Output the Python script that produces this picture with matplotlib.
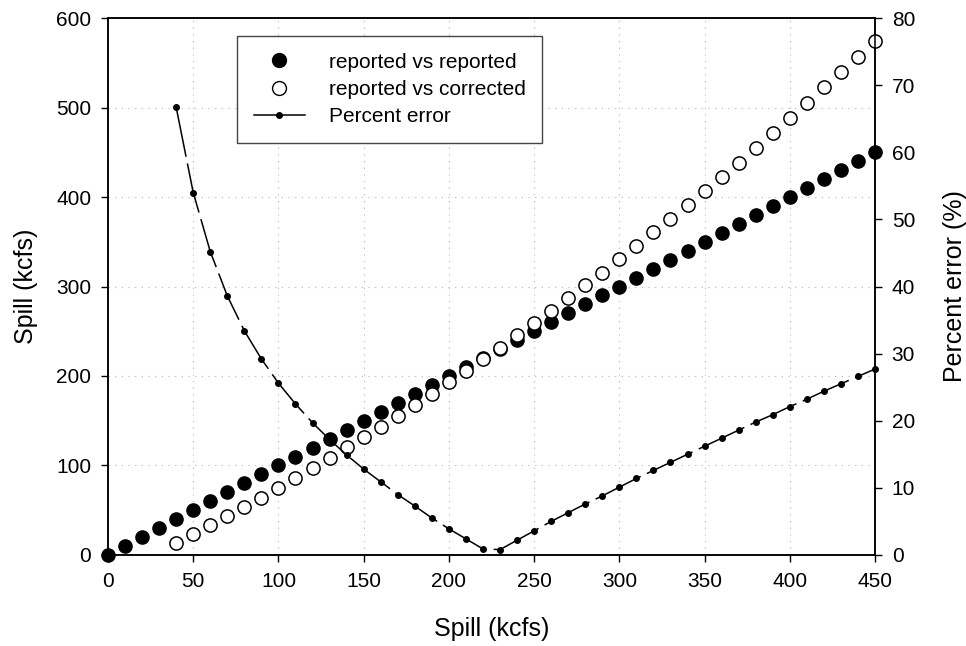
import matplotlib
matplotlib.use("Agg")
import matplotlib.pyplot as plt
from matplotlib.lines import Line2D

plt.rcParams['font.family'] = ['Liberation Sans', 'DejaVu Sans']

# reported vs reported (1:1)
spill_rep = list(range(0, 460, 10))
rep_rep = list(range(0, 460, 10))

# reported vs corrected
spill_corr = list(range(40, 460, 10))
rep_corr = [13.7, 23.8, 33.5, 43.6, 53.6, 64.0, 75.2, 85.7, 96.8, 108.0,
            120.3, 131.8, 143.4, 155.3, 167.6, 180.2, 193.0, 205.6, 218.7, 231.6,
            245.8, 259.6, 273.0, 287.5, 301.7, 315.4, 330.7, 345.3, 360.6, 375.8,
            391.4, 407.0, 422.7, 438.3, 455.1, 471.5, 488.3, 505.4, 522.5, 539.7,
            556.8, 574.3]

# percent error
spill_err = list(range(40, 460, 10))
pct_err = [66.7, 54.0, 45.2, 38.6, 33.4, 29.2, 25.6, 22.5, 19.7, 17.2,
           14.9, 12.8, 10.9, 9.0, 7.3, 5.5, 3.9, 2.4, 0.9, 0.8,
           2.2, 3.6, 5.0, 6.3, 7.6, 8.8, 10.1, 11.4, 12.6, 13.8,
           15.0, 16.2, 17.4, 18.6, 19.8, 20.9, 22.1, 23.2, 24.4, 25.5,
           26.6, 27.7]

fig = plt.figure(figsize=(9.66, 6.46), dpi=100)
ax = fig.add_axes([0.1118, 0.1409, 0.7940, 0.8312])
ax2 = ax.twinx()

ax.plot(spill_rep, rep_rep, 'o', color='black', markersize=9.5, clip_on=False, zorder=3)
ax.plot(spill_corr, rep_corr, 'o', markerfacecolor='white', markeredgecolor='black',
        markeredgewidth=1.1, markersize=9.5, clip_on=False, zorder=3)
ax2.plot(spill_err, pct_err, '-', color='black', linewidth=1.1, dashes=(33, 4.5),
         marker='o', markersize=4, clip_on=False)

ax.set_xlim(0, 450)
ax.set_ylim(0, 600)
ax2.set_ylim(0, 80)
ax.set_xticks(range(0, 451, 50))
ax.set_yticks(range(0, 601, 100))
ax2.set_yticks(range(0, 81, 10))

ax.grid(True, color='#b4b4b4', linestyle=(0, (1, 5)), linewidth=0.8)
ax.set_axisbelow(True)

for a in (ax, ax2):
    a.tick_params(direction='out', length=5, width=1, labelsize=15, pad=7)
    for s in a.spines.values():
        s.set_linewidth(1.1)

ax.set_xlabel('Spill (kcfs)', fontsize=18, labelpad=19)
ax.set_ylabel('Spill (kcfs)', fontsize=18, labelpad=13)
ax2.set_ylabel('Percent error (%)', fontsize=18, labelpad=20)

handles = [
    Line2D([], [], linestyle='none', marker='o', color='black', markersize=10),
    Line2D([], [], linestyle='none', marker='o', markerfacecolor='white',
           markeredgecolor='black', markersize=10),
    Line2D([], [], linestyle='-', color='black', linewidth=1.1, marker='o', markersize=4),
]
leg = ax2.legend(handles, ['reported vs reported', 'reported vs corrected', 'Percent error'],
                 loc='upper left', bbox_to_anchor=(0.168, 0.9665), fontsize=15,
                 fancybox=False, framealpha=1, edgecolor='#444444',
                 borderpad=0.8, handlelength=2.45, handletextpad=1.15, labelspacing=0.4,
                 borderaxespad=0)
leg.get_frame().set_linewidth(1.0)

fig.savefig('out.png', dpi=100)
